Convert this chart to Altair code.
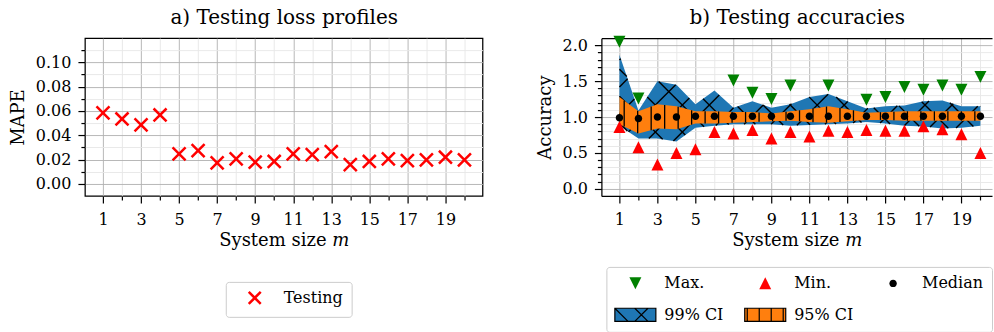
import altair as alt
import numpy as np
import pandas as pd

# ---------------- data ----------------
m = list(range(1, 21))
mape_testing = [0.0584, 0.0534, 0.0485, 0.0567, 0.0247, 0.0274, 0.0172, 0.0205, 0.0178, 0.0184,
                0.0247, 0.0241, 0.0266, 0.0159, 0.0184, 0.0205, 0.0192, 0.0197, 0.0219, 0.0197]

acc_max = [2.05, 1.26, 2.30, 2.25, 2.20, 2.20, 1.51, 1.34, 1.25, 1.44,
           2.15, 1.44, 2.20, 1.24, 1.28, 1.42, 1.38, 1.44, 1.38, 1.56]
acc_min = [0.86, 0.58, 0.34, 0.50, 0.55, 0.79, 0.77, 0.82, 0.70, 0.79,
           0.73, 0.81, 0.79, 0.82, 0.81, 0.81, 0.87, 0.83, 0.76, 0.50]
acc_median = [0.99, 0.98, 1.00, 1.00, 1.01, 1.01, 1.01, 1.01, 1.01, 1.01,
              1.01, 1.01, 1.01, 1.01, 1.01, 1.01, 1.01, 1.01, 1.01, 1.01]
ci99_hi = [1.87, 1.09, 1.50, 1.45, 1.18, 1.37, 1.13, 1.22, 1.13, 1.18,
           1.28, 1.32, 1.22, 1.12, 1.15, 1.16, 1.22, 1.23, 1.15, 1.15]
ci99_lo = [0.88, 0.70, 0.70, 0.66, 0.85, 0.88, 0.90, 0.90, 0.90, 0.88,
           0.89, 0.90, 0.91, 0.93, 0.91, 0.88, 0.87, 0.84, 0.85, 0.88]
ci95_hi = [1.28, 1.08, 1.18, 1.15, 1.08, 1.08, 1.07, 1.07, 1.05, 1.08,
           1.11, 1.15, 1.11, 1.06, 1.07, 1.08, 1.08, 1.08, 1.08, 1.08]
ci95_lo = [0.90, 0.77, 0.84, 0.83, 0.91, 0.91, 0.92, 0.93, 0.94, 0.95,
           0.93, 0.92, 0.94, 0.96, 0.96, 0.95, 0.95, 0.95, 0.95, 0.95]

mape_ticks = [round(0.01 * i, 2) for i in range(0, 12)]
acc_ticks = [round(0.1 * i, 1) for i in range(0, 21)]
# legend entries, column by column (2 rows x 3 columns)
legend_names = ["Max.", "99% CI", "Min.", "95% CI", "Median"]
title_a = "a) Testing loss profiles"
title_b = "b) Testing accuracies"

# ---------------- style ----------------
FONT = "DejaVu Serif"
MAJ, MINC = "#b0b0b0", "#e6e6e6"
BLUE, ORANGE, GREEN, RED = "#1f77b4", "#ff7f0e", "#008000", "#ff0000"
W_L, W_R, H = 398, 391, 158
XL = [0.05, 20.95]
XR = [0.05, 20.61]
YL = [-0.01, 0.12]
YR = [-0.1, 2.1]
HATCH_V = 13.5   # px between vertical hatch lines
HATCH_X = 27.0   # px between diagonal hatch lines

X_PATH = "M-1,-1L1,1M-1,1L1,-1"
TRI_DOWN = "M-1,-1L1,-1L0,1Z"
TRI_UP = "M0,-1L1,1L-1,1Z"
CIRC = "M-0.62,0A0.62,0.62 0 1,0 0.62,0A0.62,0.62 0 1,0 -0.62,0Z"
RECT = "M-3.42,-1.1L3.42,-1.1L3.42,1.1L-3.42,1.1Z"
RECT99 = RECT + "M-3.42,-1.1L-1.22,1.1M-0.1,-1.1L2.1,1.1M-0.1,1.1L2.1,-1.1"
RECT95 = RECT + "M-3,-1.1L-3,1.1M-1,-1.1L-1,1.1M1,-1.1L1,1.1M3,-1.1L3,1.1"

odd = "datum.value % 2 == 1"


def xaxis(show_domain):
    return alt.Axis(
        values=m, title="System size 𝑚",
        labelExpr=f"{odd} ? datum.label : ''",
        tickSize={"condition": {"test": odd, "value": 7}, "value": 4},
        gridColor={"condition": {"test": odd, "value": MAJ}, "value": MINC},
        domain=show_domain, domainColor="black", domainWidth=1.25,
        labelFont=FONT, labelFontSize=16, labelColor="black",
        titleFont=FONT, titleFontSize=18, titleFontWeight="normal", titleColor="black",
        labelPadding=9, titlePadding=4, labelFlush=False, labelOverlap=False,
    )


def top_title_axis(text, show_domain):
    # a label-free axis on top whose title is the panel title
    return alt.Axis(
        orient="top", title=text, labels=False, ticks=False, grid=False,
        domain=show_domain, domainColor="black", domainWidth=1.25,
        titleFont=FONT, titleFontSize=20, titleFontWeight="normal", titleColor="black",
        titleBaseline="alphabetic", titlePadding=14.5,
    )


def yaxis(values, title, major_test, fmt, show_domain):
    return alt.Axis(
        values=values, title=title,
        labelExpr=f"{major_test} ? format(datum.value, '{fmt}') : ''",
        tickSize={"condition": {"test": major_test, "value": 7}, "value": 4},
        gridColor={"condition": {"test": major_test, "value": MAJ}, "value": MINC},
        domain=show_domain, domainColor="black", domainWidth=1.25,
        labelFont=FONT, labelFontSize=16, labelColor="black",
        titleFont=FONT, titleFontSize=18, titleFontWeight="normal", titleColor="black",
        labelPadding=7, titlePadding=8, labelFlush=False, labelOverlap=False,
    )


def legend(x, y, stroke_w, columns=None):
    kw = dict(title=None, orient="none", legendX=x, legendY=y, symbolSize=144,
              symbolOffset=13, labelOffset=21, padding=8, rowPadding=14, columnPadding=18,
              strokeColor="#cccccc", fillColor="white", cornerRadius=3,
              labelFont=FONT, labelFontSize=16, labelColor="black",
              symbolStrokeWidth=stroke_w, symbolOpacity=1)
    if columns:
        kw["columns"] = columns
    return alt.Legend(**kw)


# ---------------- left panel ----------------
df_l = pd.DataFrame({"m": m, "mape": mape_testing, "kind_l": "Testing"})
xs_l = alt.Scale(domain=XL, nice=False, zero=False)
leg_l = legend(141, 244, 2.5)
left_pts = alt.Chart(df_l).mark_point(filled=False, strokeWidth=2.5, size=169, opacity=1).encode(
    x=alt.X("m:Q", scale=xs_l, axis=xaxis(False)),
    y=alt.Y("mape:Q", scale=alt.Scale(domain=YL, nice=False, zero=False),
            axis=yaxis(mape_ticks, "MAPE", "abs(round(datum.value*100)) % 2 == 0", ".2f", False)),
    color=alt.Color("kind_l:N", scale=alt.Scale(domain=["Testing"], range=[RED]), legend=leg_l),
    shape=alt.Shape("kind_l:N", scale=alt.Scale(domain=["Testing"], range=[X_PATH]), legend=leg_l),
)
left_title = alt.Chart(df_l).mark_point(opacity=0).encode(
    x=alt.X("m:Q", scale=xs_l, axis=top_title_axis(title_a, False)),
)
left = alt.layer(left_pts, left_title).resolve_axis(x="independent").properties(width=W_L, height=H)

# ---------------- right panel ----------------
sx = W_R / (XR[1] - XR[0])
sy = H / (YR[1] - YR[0])

band = pd.DataFrame({"m": m, "lo99": ci99_lo, "hi99": ci99_hi, "lo95": ci95_lo, "hi95": ci95_hi})

# hatch decorations derived from the CI bands
xf = np.linspace(1, 20, 3801)
lo_f = np.interp(xf, m, ci99_lo)
hi_f = np.interp(xf, m, ci99_hi)
px = (xf - XR[0]) * sx
diag = []
for sgn in (1, -1):
    for c in np.arange(-800.0, 900.0, HATCH_X):
        yv = YR[0] + (sgn * px + c) / sy
        ok = ((yv >= lo_f) & (yv <= hi_f)).astype(int)
        edges = np.flatnonzero(np.diff(np.concatenate([[0], ok, [0]])))
        for a, b in zip(edges[0::2], edges[1::2] - 1):
            if b > a:
                diag.append({"x": xf[a], "y": yv[a], "x2": xf[b], "y2": yv[b]})
df_diag = pd.DataFrame(diag)

xv = np.arange(1.25, 20.0, HATCH_V / sx)
df_vert = pd.DataFrame({"x": xv, "y": np.interp(xv, m, ci95_lo), "y2": np.interp(xv, m, ci95_hi)})

pts = pd.concat([
    pd.DataFrame({"m": m, "value": acc_max, "kind_r": "Max."}),
    pd.DataFrame({"m": m, "value": acc_min, "kind_r": "Min."}),
    pd.DataFrame({"m": m, "value": acc_median, "kind_r": "Median"}),
], ignore_index=True)

xs_r = alt.Scale(domain=XR, nice=False, zero=False)
ys_r = alt.Scale(domain=YR, nice=False, zero=False)
ax_x_r = xaxis(True)
ax_y_r = yaxis(acc_ticks, "Accuracy", "round(datum.value*10) % 5 == 0", ".1f", True)

blue = alt.Chart(band).mark_area(color=BLUE, opacity=1).encode(
    x=alt.X("m:Q", scale=xs_r, axis=ax_x_r),
    y=alt.Y("lo99:Q", scale=ys_r, axis=ax_y_r),
    y2="hi99:Q",
)
blue_hatch = alt.Chart(df_diag).mark_rule(color="black", strokeWidth=1.4).encode(
    x=alt.X("x:Q", scale=xs_r, axis=ax_x_r),
    y=alt.Y("y:Q", scale=ys_r, axis=ax_y_r),
    x2="x2:Q", y2="y2:Q",
)
orange = alt.Chart(band).mark_area(color=ORANGE, opacity=1).encode(
    x=alt.X("m:Q", scale=xs_r, axis=ax_x_r),
    y=alt.Y("lo95:Q", scale=ys_r, axis=ax_y_r),
    y2="hi95:Q",
)
orange_hatch = alt.Chart(df_vert).mark_rule(color="black", strokeWidth=1.3).encode(
    x=alt.X("x:Q", scale=xs_r, axis=ax_x_r),
    y=alt.Y("y:Q", scale=ys_r, axis=ax_y_r),
    y2="y2:Q",
)
leg_r = legend(5, 229, 1.2, columns=3)
points = alt.Chart(pts).transform_filter(f"datum.value <= {YR[1]}").mark_point(
    filled=True, size=144, opacity=1).encode(
    x=alt.X("m:Q", scale=xs_r, axis=ax_x_r),
    y=alt.Y("value:Q", scale=ys_r, axis=ax_y_r),
    color=alt.Color("kind_r:N", scale=alt.Scale(domain=legend_names,
                    range=[GREEN, BLUE, RED, ORANGE, "black"]), legend=leg_r),
    shape=alt.Shape("kind_r:N", scale=alt.Scale(domain=legend_names,
                    range=[TRI_DOWN, RECT99, TRI_UP, RECT95, CIRC]), legend=leg_r),
    stroke=alt.Stroke("kind_r:N", scale=alt.Scale(domain=legend_names,
                      range=["transparent", "black", "transparent", "black", "transparent"]), legend=leg_r),
)
right_title = alt.Chart(band).mark_point(opacity=0).encode(
    x=alt.X("m:Q", scale=xs_r, axis=top_title_axis(title_b, True)),
)

right_main = alt.layer(blue, blue_hatch, orange, orange_hatch, points)
right = alt.layer(right_main, right_title).resolve_axis(x="independent").properties(
    width=W_R, height=H,
    view=alt.ViewBackground(stroke="transparent"),
)

chart = alt.hconcat(left, right, spacing=119, bounds="flush").resolve_scale(
    color="independent", shape="independent", stroke="independent"
).resolve_legend(
    color="independent", shape="independent", stroke="independent"
).properties(
    padding={"left": 8, "top": 6, "right": 0, "bottom": 0}
).configure_view(stroke="black", strokeWidth=1.25).configure_axis(
    labelFont=FONT, labelFontSize=16, labelColor="black",
    titleFont=FONT, titleFontSize=18, titleFontWeight="normal", titleColor="black",
    tickColor="black", tickWidth=1.2, gridWidth=0.9,
)

chart.save("out.html", embed_options={"renderer": "svg", "actions": False})
